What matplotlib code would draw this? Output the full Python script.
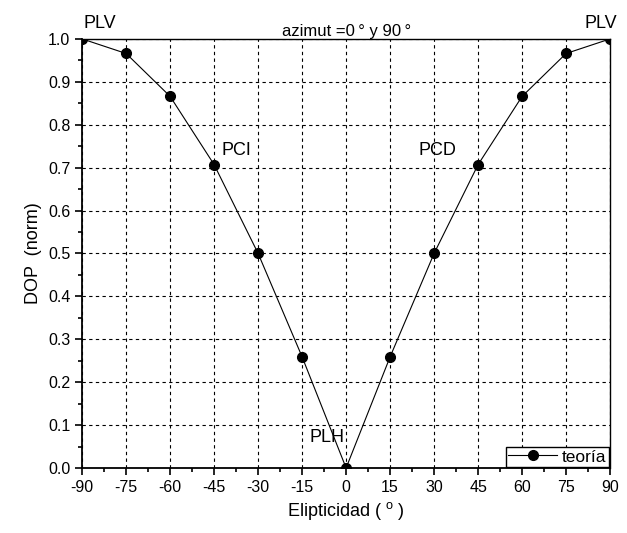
import matplotlib.pyplot as plt
import numpy as np

plt.rcParams['font.family'] = ['Liberation Sans', 'DejaVu Sans']
plt.rcParams['axes.unicode_minus'] = False

# datos
elipticidad = [-90, -75, -60, -45, -30, -15, 0, 15, 30, 45, 60, 75, 90]
dop = [1.0, 0.966, 0.866, 0.707, 0.5, 0.259, 0.0, 0.259, 0.5, 0.707, 0.866, 0.966, 1.0]
xticks = [-90, -75, -60, -45, -30, -15, 0, 15, 30, 45, 60, 75, 90]
yticks = [0.0, 0.1, 0.2, 0.3, 0.4, 0.5, 0.6, 0.7, 0.8, 0.9, 1.0]

fig = plt.figure(figsize=(6.27, 5.33), dpi=100)
ax = fig.add_axes([0.131, 0.122, 0.842, 0.805])

ax.plot(elipticidad, dop, color='black', linewidth=0.8, marker='o',
        markersize=7, label='teoría', zorder=3)

ax.set_xlim(-90, 90)
ax.set_ylim(0, 1.0)
ax.set_xticks(xticks)
ax.set_yticks(yticks)
ax.set_yticklabels([f"{v:.1f}" for v in yticks])
ax.set_xticks(np.arange(-82.5, 90, 15), minor=True)
ax.set_yticks(np.arange(0.05, 1.0, 0.1), minor=True)
ax.tick_params(which='major', direction='out', length=5, width=1.2, labelsize=11.5)
ax.tick_params(which='minor', direction='out', length=3, width=1.2)
for s in ['left', 'bottom']:
    ax.spines[s].set_linewidth(1.3)
for s in ['top', 'right']:
    ax.spines[s].set_linewidth(1.0)

ax.grid(True, which='major', linestyle=(0, (3, 3)), color='black', linewidth=0.8)

ax.set_xlabel('Elipticidad ( $^{\\mathregular{o}}$ )', fontsize=13)
ax.set_ylabel('DOP  (norm)', fontsize=13)
ax.set_title('azimut =0\u2009° y 90\u2009°', fontsize=12, pad=2)

# anotaciones
ax.text(-84, 1.015, 'PLV', fontsize=13, ha='center', va='bottom', clip_on=False)
ax.text(87, 1.015, 'PLV', fontsize=13, ha='center', va='bottom', clip_on=False)
ax.text(-37.5, 0.74, 'PCI', fontsize=13, ha='center', va='center')
ax.text(31, 0.74, 'PCD', fontsize=13, ha='center', va='center')
ax.text(-6.5, 0.07, 'PLH', fontsize=13, ha='center', va='center')

leg = ax.legend(loc='lower right', fontsize=12.5, fancybox=False, framealpha=1,
                edgecolor='black', borderpad=0.15, handlelength=2.8,
                handletextpad=0.3, borderaxespad=0.05)
leg.get_frame().set_linewidth(1.0)

plt.savefig('out.png', dpi=100)
